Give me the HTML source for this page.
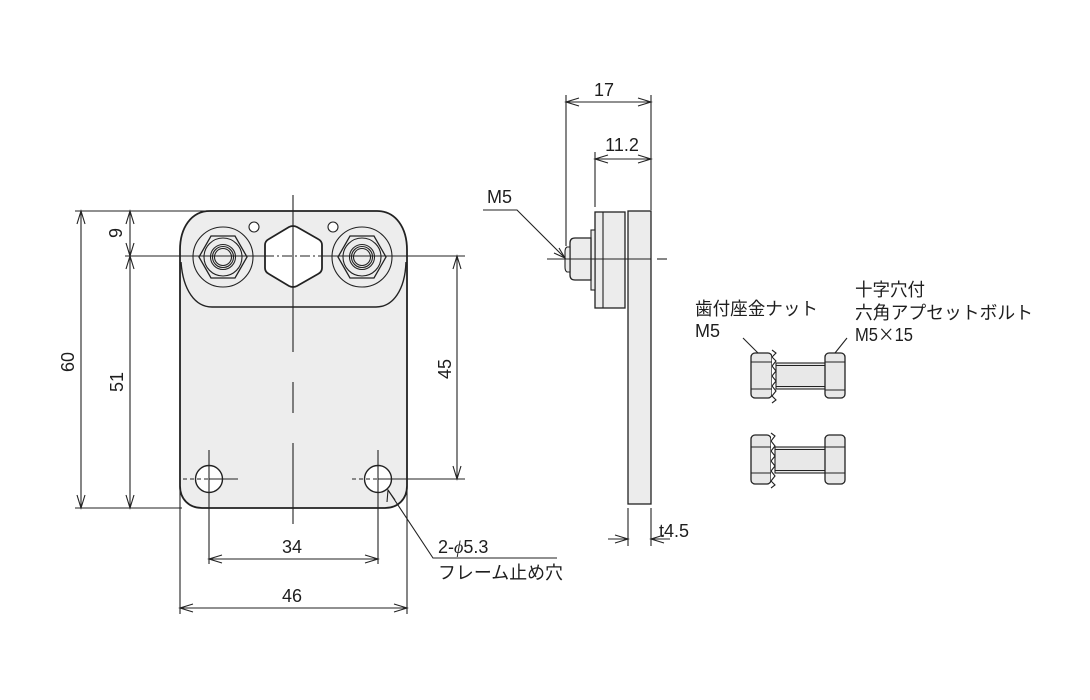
<!DOCTYPE html>
<html><head><meta charset="utf-8"><style>
html,body{margin:0;padding:0;background:#fff;}
svg{display:block;}
text{font-family:"Liberation Sans","Noto Sans CJK JP",sans-serif;fill:#1e1e1e;}
</style></head><body>
<svg width="1090" height="700" viewBox="0 0 1090 700" xmlns="http://www.w3.org/2000/svg">
<g fill="none" stroke="#222" stroke-width="1.1">
<!-- ===== FRONT PLATE ===== -->
<path d="M210,211 L377,211 C396,211 407,228 407,250 L407,486 C407,499 398,508 385,508 L202,508 C189,508 180,499 180,486 L180,250 C180,228 191,211 210,211 Z" fill="#ededed" stroke-width="1.8"/>
<path d="M181,262 C183,290 195,307 212,307 L376,307 C393,307 405,290 406,262" stroke-width="1.4"/>
<!-- hex hole -->
<path d="M289,227 Q293,225 297,227 L318,239 Q322,241 322,245 L322,268 Q322,272 318,274 L297,286 Q293,288 289,286 L269,274 Q265,272 265,268 L265,245 Q265,241 269,239 Z" fill="#fff" stroke-width="1.8"/>
<!-- small holes -->
<circle cx="254" cy="227" r="5" fill="#fff"/>
<circle cx="333" cy="227" r="5" fill="#fff"/>
<!-- left nut -->
<circle cx="223" cy="257" r="30"/>
<polygon points="199,257 211,236 235,236 247,257 235,278 211,278" stroke-width="1.3"/>
<circle cx="223" cy="257" r="19"/>
<circle cx="223" cy="257" r="12.5"/>
<circle cx="223" cy="257" r="10.5"/>
<circle cx="223" cy="257" r="8.5"/>
<!-- right nut -->
<circle cx="362" cy="257" r="30"/>
<polygon points="338,257 350,236 374,236 386,257 374,278 350,278" stroke-width="1.3"/>
<circle cx="362" cy="257" r="19"/>
<circle cx="362" cy="257" r="12.5"/>
<circle cx="362" cy="257" r="10.5"/>
<circle cx="362" cy="257" r="8.5"/>
<!-- bottom holes -->
<circle cx="209" cy="479" r="13.5" fill="#fff" stroke-width="1.4"/>
<circle cx="378" cy="479" r="13.5" fill="#fff" stroke-width="1.4"/>
<!-- center lines -->
<line x1="293" y1="195" x2="293" y2="352"/>
<line x1="293" y1="382" x2="293" y2="413"/>
<line x1="293" y1="443" x2="293" y2="524"/>
<line x1="125" y1="256" x2="264" y2="256"/>
<line x1="264" y1="256" x2="322" y2="256" stroke-dasharray="10,3,2,3"/>
<line x1="322" y1="256" x2="465" y2="256"/>
<!-- hole center lines -->
<line x1="183" y1="479" x2="209" y2="479" stroke-dasharray="4,3"/>
<line x1="209" y1="479" x2="238" y2="479"/>
<line x1="352" y1="479" x2="378" y2="479" stroke-dasharray="4,3"/>
<line x1="378" y1="479" x2="465" y2="479"/>
<line x1="209" y1="450" x2="209" y2="564"/>
<line x1="378" y1="450" x2="378" y2="564"/>
<!-- extension lines -->
<line x1="75" y1="211" x2="205" y2="211"/>
<line x1="75" y1="508" x2="182" y2="508"/>
<line x1="180" y1="486" x2="180" y2="614"/>
<line x1="407" y1="486" x2="407" y2="614"/>
<!-- dim 60 -->
<line x1="81" y1="211" x2="81" y2="508"/>
<polyline points="77,224 81,211 85,224"/>
<polyline points="77,495 81,508 85,495"/>
<!-- dim 9 / 51 -->
<line x1="130" y1="211" x2="130" y2="508"/>
<polyline points="126,224 130,211 134,224"/>
<polyline points="126,243 130,256 134,243"/>
<polyline points="126,269 130,256 134,269"/>
<polyline points="126,495 130,508 134,495"/>
<!-- dim 45 -->
<line x1="457" y1="256" x2="457" y2="479"/>
<polyline points="453,269 457,256 461,269"/>
<polyline points="453,466 457,479 461,466"/>
<!-- dim 34 -->
<line x1="209" y1="559" x2="378" y2="559"/>
<polyline points="222,555 209,559 222,563"/>
<polyline points="365,555 378,559 365,563"/>
<!-- dim 46 -->
<line x1="180" y1="608" x2="407" y2="608"/>
<polyline points="193,604 180,608 193,612"/>
<polyline points="394,604 407,608 394,612"/>
<!-- leader 2-phi -->
<polyline points="557,558 433,558 388,490"/>
<polyline points="387,502 388,490 395,500"/>

<!-- ===== SIDE VIEW ===== -->
<rect x="628" y="211" width="23" height="293" fill="#ececec" stroke-width="1.3"/>
<rect x="595" y="212" width="30" height="96" fill="#ececec" stroke-width="1.3"/>
<line x1="603" y1="212" x2="603" y2="308"/>
<rect x="591" y="230" width="4" height="60" fill="#ececec"/>
<path d="M591,238 L575,238 Q570,238 570,243 L570,275 Q570,280 575,280 L591,280 Z" fill="#ececec" stroke-width="1.3"/>
<path d="M570,247 L567,247 Q565,248 565,252 L565,267 Q565,271 567,272 L570,272 Z" fill="#ececec"/>
<line x1="547" y1="259" x2="651" y2="259"/>
<line x1="657" y1="259" x2="667" y2="259"/>
<!-- dim 17 -->
<line x1="566" y1="95" x2="566" y2="246"/>
<line x1="651" y1="95" x2="651" y2="210"/>
<line x1="566" y1="102" x2="651" y2="102"/>
<polyline points="579,98 566,102 579,106"/>
<polyline points="638,98 651,102 638,106"/>
<!-- dim 11.2 -->
<line x1="595" y1="152" x2="595" y2="207"/>
<line x1="595" y1="159" x2="651" y2="159"/>
<polyline points="608,155 595,159 608,163"/>
<polyline points="638,155 651,159 638,163"/>
<!-- M5 leader -->
<polyline points="483,210 517,210 565,258"/>
<polyline points="554,253 565,258 559,248"/>
<!-- t4.5 -->
<line x1="628" y1="508" x2="628" y2="546"/>
<line x1="651" y1="508" x2="651" y2="546"/>
<line x1="608" y1="539" x2="628" y2="539"/>
<line x1="651" y1="539" x2="670" y2="539"/>
<polyline points="615,535 628,539 615,543"/>
<polyline points="664,535 651,539 664,543"/>

<!-- ===== BOLTS ===== -->
<line x1="743" y1="338" x2="762" y2="357"/>
<line x1="847" y1="338" x2="835" y2="353"/>
<!-- top assembly -->
<rect x="776" y="363" width="50" height="26" fill="#e8e8e8"/>
<line x1="776" y1="365.5" x2="826" y2="365.5"/>
<line x1="776" y1="386.5" x2="826" y2="386.5"/>
<rect x="751" y="353" width="21" height="45" rx="4" fill="#e8e8e8" stroke-width="1.3"/>
<line x1="751" y1="362" x2="772" y2="362"/>
<line x1="751" y1="389" x2="772" y2="389"/>
<polyline points="772,350 776,353 772,357 776,361 772,366 776,371 772,376 776,381 772,386 776,391 772,396 776,400 772,403" fill="#fff"/>
<rect x="825" y="353" width="20" height="45" rx="4" fill="#e8e8e8" stroke-width="1.3"/>
<line x1="825" y1="362" x2="845" y2="362"/>
<line x1="825" y1="390" x2="845" y2="390"/>
<!-- bottom assembly -->
<rect x="775" y="447" width="51" height="26" fill="#e8e8e8"/>
<line x1="775" y1="449.5" x2="826" y2="449.5"/>
<line x1="775" y1="470.5" x2="826" y2="470.5"/>
<rect x="751" y="435" width="20" height="49" rx="4" fill="#e8e8e8" stroke-width="1.3"/>
<line x1="751" y1="447" x2="771" y2="447"/>
<line x1="751" y1="473" x2="771" y2="473"/>
<polyline points="771,433 775,436 771,441 775,446 771,451 775,456 771,461 775,466 771,471 775,476 771,481 775,485 771,488" fill="#fff"/>
<rect x="825" y="435" width="20" height="49" rx="4" fill="#e8e8e8" stroke-width="1.3"/>
<line x1="825" y1="447" x2="845" y2="447"/>
<line x1="825" y1="473" x2="845" y2="473"/>
</g>

<!-- ===== TEXT ===== -->
<g font-size="18">
<text transform="translate(74,362) rotate(-90)" text-anchor="middle">60</text>
<text transform="translate(123,382) rotate(-90)" text-anchor="middle">51</text>
<text transform="translate(122,233) rotate(-90)" text-anchor="middle">9</text>
<text transform="translate(451,369) rotate(-90)" text-anchor="middle">45</text>
<text x="292" y="553" text-anchor="middle">34</text>
<text x="292" y="602" text-anchor="middle">46</text>
<text x="604" y="96" text-anchor="middle">17</text>
<text x="622" y="151" text-anchor="middle">11.2</text>
<text x="487" y="203">M5</text>
<text x="438" y="553">2-<tspan font-family="Liberation Serif, serif" font-style="italic">ϕ</tspan>5.3</text>
<text x="659" y="537">t4.5</text>
</g>
<g font-size="18">
<text x="438" y="579" textLength="125" lengthAdjust="spacingAndGlyphs">フレーム止め穴</text>
<text x="695" y="315" textLength="123" lengthAdjust="spacingAndGlyphs">歯付座金ナット</text>
<text x="695" y="337">M5</text>
<text x="855" y="296" textLength="70" lengthAdjust="spacingAndGlyphs">十字穴付</text>
<text x="855" y="319" textLength="178" lengthAdjust="spacingAndGlyphs">六角アプセットボルト</text>
<text x="855" y="341" textLength="58" lengthAdjust="spacingAndGlyphs">M5<tspan font-family="Noto Sans CJK JP, sans-serif">×</tspan>15</text>
</g>
</svg>
</body></html>
